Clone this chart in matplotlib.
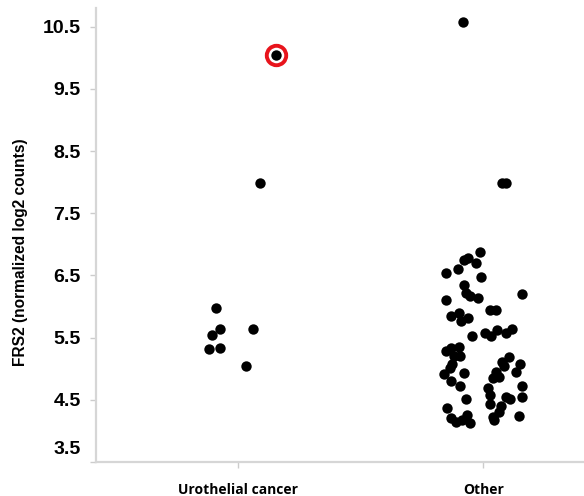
import numpy as np
import matplotlib
matplotlib.use("Agg")
import matplotlib.pyplot as plt
from matplotlib.transforms import ScaledTranslation

categories = ["Urothelial cancer", "Other"]

# Urothelial cancer: horizontal jitter offset, value
uro_off = [-0.089, -0.073, -0.106, 0.061, -0.118, -0.073, 0.033, 0.089, 0.154]
uro_val = [5.98, 5.64, 5.55, 5.64, 5.31, 5.34, 5.05, 7.98, 10.05]

# Other
oth_off = [-0.085, 0.077, 0.093, -0.014, -0.081, -0.065, -0.030, -0.104, -0.154,
           -0.009, -0.080, -0.071, -0.053, -0.023, 0.157, -0.154, 0.026, 0.051,
           -0.134, -0.100, -0.064, -0.093, -0.046, 0.008, 0.031, 0.054, 0.092,
           0.115, -0.153, -0.133, -0.098, -0.120, -0.096, -0.128, -0.138, -0.159,
           -0.079, -0.131, -0.096, -0.073, -0.150, -0.134, -0.110, -0.089, -0.067,
           -0.055, 0.104, 0.077, 0.085, 0.150, 0.050, 0.133, 0.038, 0.062,
           0.159, 0.017, 0.028, 0.092, 0.107, 0.157, 0.028, 0.072, 0.065,
           0.038, 0.045, 0.146]
oth_val = [10.58, 7.99, 7.99, 6.87, 6.75, 6.78, 6.70, 6.60, 6.54,
           6.48, 6.35, 6.21, 6.17, 6.13, 6.20, 6.10, 5.94, 5.94,
           5.85, 5.90, 5.82, 5.76, 5.53, 5.57, 5.52, 5.62, 5.58,
           5.64, 5.29, 5.33, 5.35, 5.20, 5.20, 5.07, 5.01, 4.91,
           4.93, 4.80, 4.72, 4.51, 4.37, 4.20, 4.14, 4.18, 4.25,
           4.13, 5.19, 5.10, 5.04, 5.08, 4.95, 4.95, 4.85, 4.86,
           4.73, 4.69, 4.58, 4.54, 4.51, 4.55, 4.44, 4.40, 4.30,
           4.22, 4.17, 4.24]

# highlighted sample (index in urothelial list)
highlight = 8

yticks = [3.5, 4.5, 5.5, 6.5, 7.5, 8.5, 9.5, 10.5]

fig = plt.figure(figsize=(5.84, 4.96), dpi=100)
ax = fig.add_axes([0.1644, 0.0685, 0.8356, 0.9155])

ax.scatter(np.array(uro_off) + 0, uro_val, s=56, color="black", zorder=3, linewidths=0)
ax.scatter(np.array(oth_off) + 1, oth_val, s=56, color="black", zorder=3, linewidths=0)
ax.plot(uro_off[highlight], uro_val[highlight], "o", mfc="none", mec="#e8141c",
        ms=14, mew=2.8, zorder=4)

ax.set_xlim(-0.58, 1.41)
ax.set_ylim(3.5, 10.8)
ax.set_yticks(yticks)
ax.set_yticklabels([str(t) for t in yticks])
ax.set_xticks([0, 1])
ax.set_xticklabels(categories)

for s in ["top", "right"]:
    ax.spines[s].set_visible(False)
for s in ["left", "bottom"]:
    ax.spines[s].set_color("#d6d6d6")
    ax.spines[s].set_linewidth(1.6)

ax.tick_params(axis="y", colors="#cccccc", length=4, width=1, pad=7, labelcolor="black")
ax.tick_params(axis="x", colors="#cccccc", length=4, width=1, pad=11, labelcolor="black")

for lab in ax.get_yticklabels():
    lab.set_fontfamily("Liberation Sans")
    lab.set_fontweight("bold")
    lab.set_fontsize(14)
for lab in ax.get_xticklabels():
    lab.set_fontfamily("Open Sans")
    lab.set_fontweight("bold")
    lab.set_fontsize(10)

# bottom label sits a bit above the axis corner
lab35 = ax.get_yticklabels()[0]
lab35.set_transform(lab35.get_transform() + ScaledTranslation(0, 15 / 100, fig.dpi_scale_trans))

ax.set_ylabel("FRS2 (normalized log2 counts)", fontfamily="Liberation Sans",
              fontweight="bold", fontsize=11.2)
ax.yaxis.set_label_coords(-0.14, 0.463)

fig.savefig("out.png", dpi=100)
